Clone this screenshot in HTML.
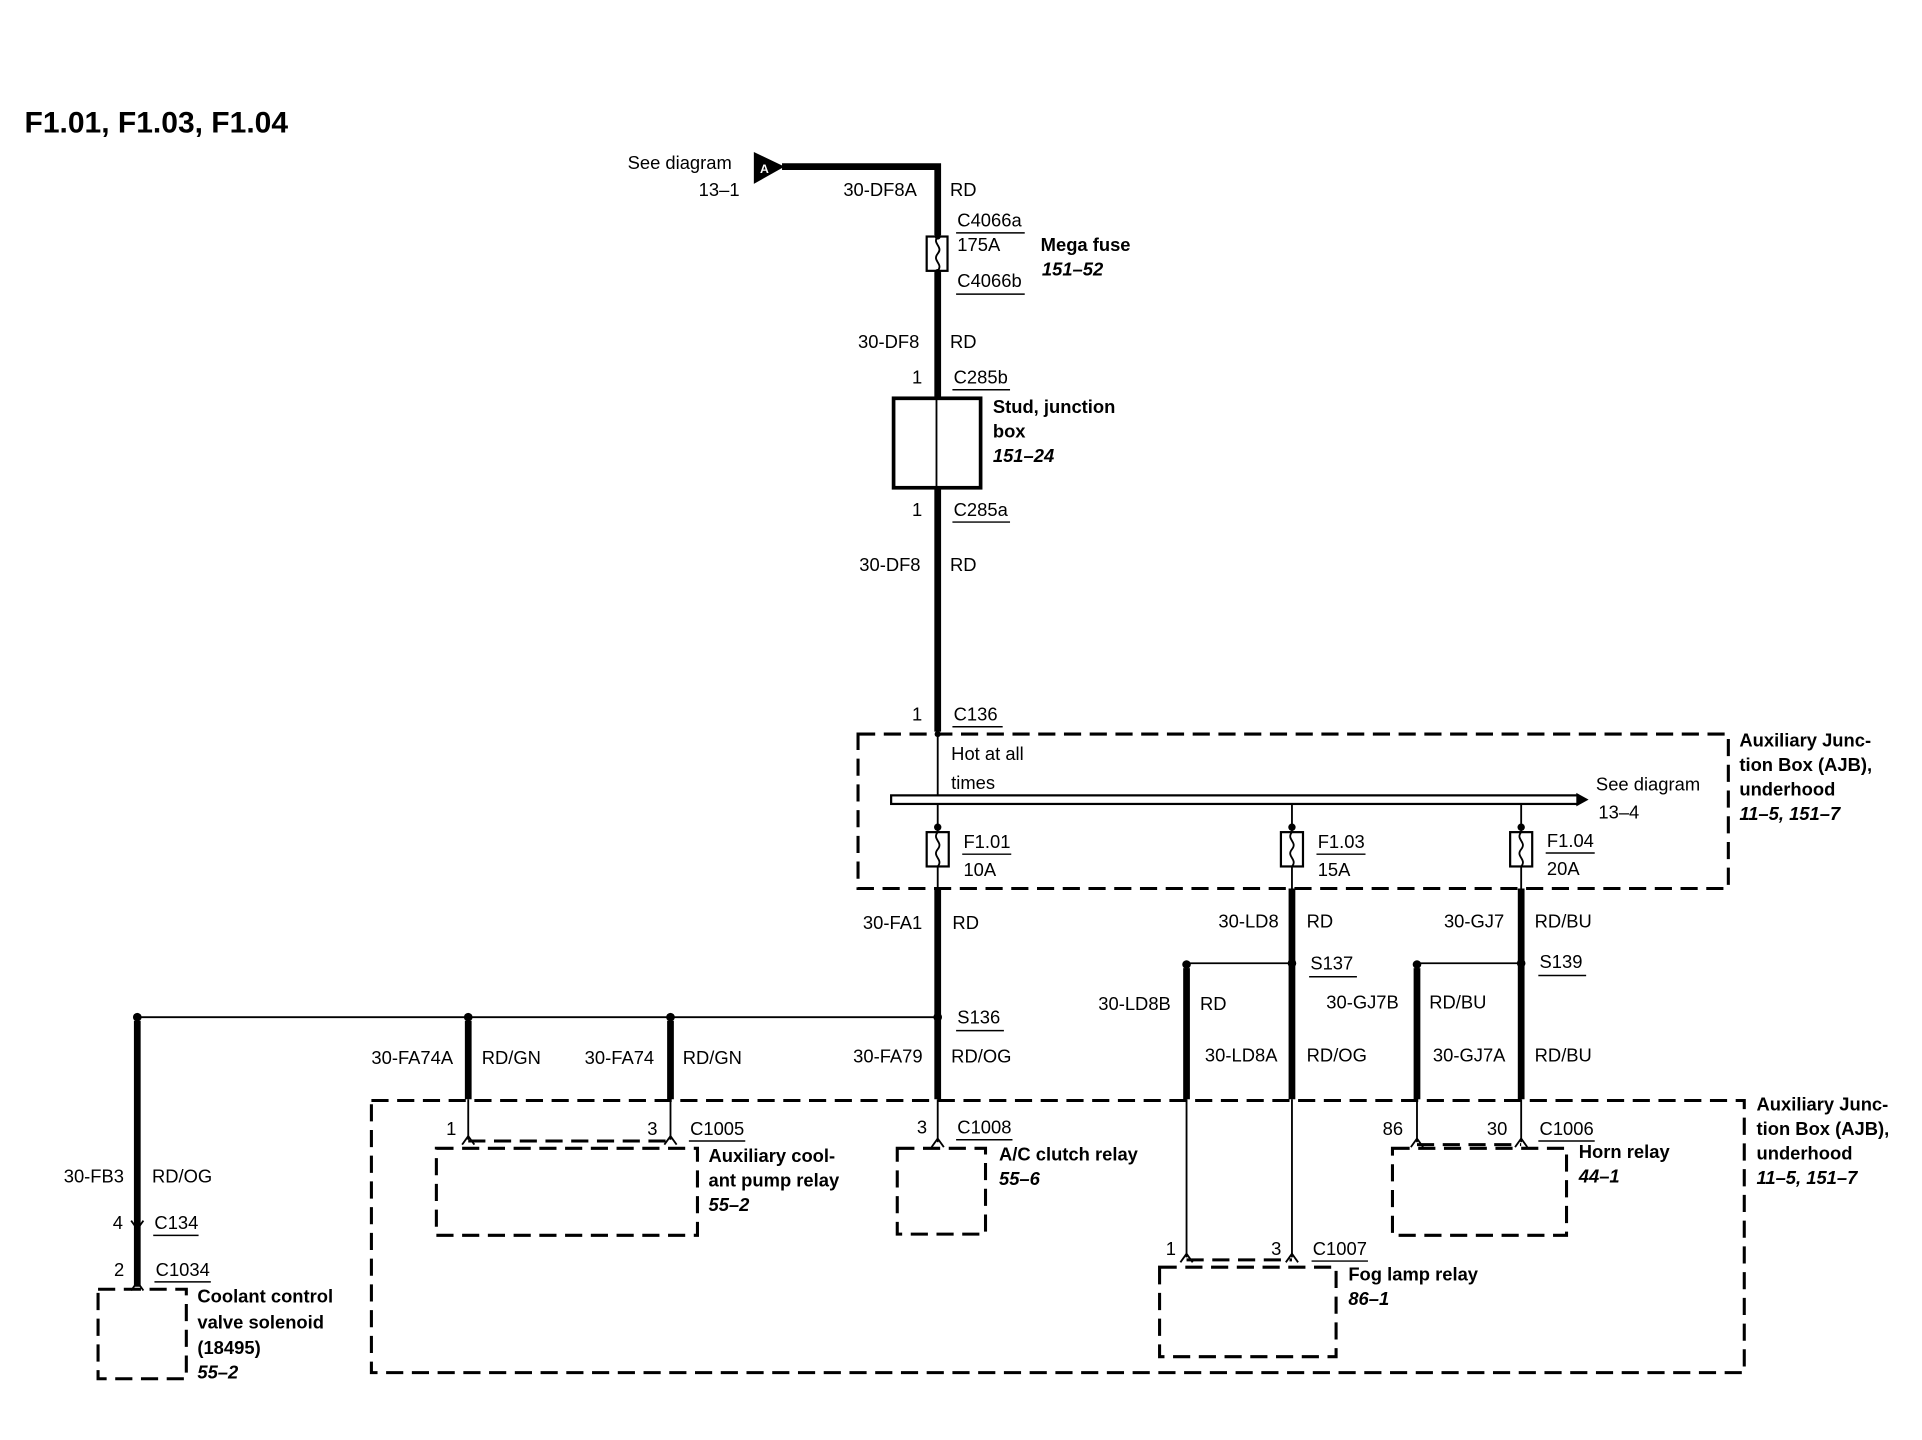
<!DOCTYPE html>
<html><head><meta charset="utf-8"><style>
html,body{margin:0;padding:0;background:#fff;width:1922px;height:1440px;overflow:hidden}
svg{display:block}
text{font-family:"Liberation Sans",sans-serif;font-size:15px;fill:#000}
.b{font-weight:bold}
.i{font-weight:bold;font-style:italic}
.t{font-size:24px;font-weight:bold}
.w{stroke:#000;stroke-width:5.5;fill:none}
.n{stroke:#000;stroke-width:1.5;fill:none}
.d{stroke:#000;stroke-width:2.5;fill:none;stroke-dasharray:14,7}
.u{stroke:#000;stroke-width:1.2}
</style></head><body>
<svg width="1922" height="1440" viewBox="0 0 1568 1175" preserveAspectRatio="none">
<text x="20" y="108" class="t" textLength="215" lengthAdjust="spacingAndGlyphs">F1.01, F1.03, F1.04</text>

<polygon points="615,124 640,136 615,150" fill="#000"/>
<text x="620" y="141" style="font-size:10px;fill:#fff" class="b">A</text>
<text x="512" y="138">See diagram</text>
<text x="570" y="160">13–1</text>
<path class="w" d="M638,136 H765 V192"/>
<text x="688" y="160">30-DF8A</text><text x="775" y="160">RD</text>
<text x="781" y="185">C4066a</text><line class="u" x1="780" y1="190" x2="836" y2="190"/>
<text x="781" y="205">175A</text>
<text x="781" y="234">C4066b</text><line class="u" x1="780" y1="240" x2="836" y2="240"/>
<text x="849" y="205" class="b">Mega fuse</text><text x="850" y="225" class="i">151–52</text>
<rect x="756" y="193" width="17" height="28" fill="#fff" stroke="#000" stroke-width="1.8"/>
<path class="n" d="M765,193 c-5,6 5,8 0,14 c-5,6 5,8 0,14" />
<circle cx="765" cy="193" r="2.5" fill="#000"/><circle cx="765" cy="222" r="2.5" fill="#000"/>
<path class="w" d="M765,222 V325"/>
<text x="700" y="284">30-DF8</text><text x="775" y="284">RD</text>
<text x="744" y="313">1</text><text x="778" y="313">C285b</text><line class="u" x1="777" y1="318" x2="824" y2="318"/>
<rect x="729" y="325" width="71" height="73" fill="none" stroke="#000" stroke-width="3"/>
<line class="n" x1="764" y1="325" x2="764" y2="398"/>
<text x="810" y="337" class="b">Stud, junction</text><text x="810" y="357" class="b">box</text><text x="810" y="377" class="i">151–24</text>
<text x="744" y="421">1</text><text x="778" y="421">C285a</text><line class="u" x1="777" y1="426" x2="824" y2="426"/>
<path class="w" d="M765,398 V597"/>
<text x="701" y="466">30-DF8</text><text x="775" y="466">RD</text>
<text x="744" y="588">1</text><text x="778" y="588">C136</text><line class="u" x1="777" y1="593" x2="818" y2="593"/>

<rect class="d" x="700" y="599" width="710" height="126"/>
<line class="n" x1="765" y1="599" x2="765" y2="650"/>
<circle cx="765" cy="599" r="2.5" fill="#000"/>
<text x="776" y="620">Hot at all</text><text x="776" y="644">times</text>
<rect x="727" y="649" width="560" height="7" fill="#fff" stroke="#000" stroke-width="1.8"/>
<polygon points="1286,647 1296,652.5 1286,658" fill="#000"/>
<text x="1302" y="645">See diagram</text><text x="1304" y="668">13–4</text>
<text x="1419" y="609" class="b">Auxiliary Junc-</text><text x="1419" y="629" class="b">tion Box (AJB),</text><text x="1419" y="649" class="b">underhood</text><text x="1419" y="669" class="i">11–5, 151–7</text>

<g>
<line class="n" x1="765" y1="656" x2="765" y2="725"/>
<rect x="756" y="679" width="18" height="28" fill="#fff" stroke="#000" stroke-width="1.8"/>
<path class="n" d="M765,679 c-5,6 5,8 0,14 c-5,6 5,8 0,14"/>
<circle cx="765" cy="675" r="3" fill="#000"/>
<text x="786" y="692">F1.01</text><line class="u" x1="785" y1="697" x2="825" y2="697"/><text x="786" y="715">10A</text>
<line class="n" x1="1054" y1="656" x2="1054" y2="725"/>
<rect x="1045" y="679" width="18" height="28" fill="#fff" stroke="#000" stroke-width="1.8"/>
<path class="n" d="M1054,679 c-5,6 5,8 0,14 c-5,6 5,8 0,14"/>
<circle cx="1054" cy="675" r="3" fill="#000"/>
<text x="1075" y="692">F1.03</text><line class="u" x1="1074" y1="697" x2="1114" y2="697"/><text x="1075" y="715">15A</text>
<line class="n" x1="1241" y1="656" x2="1241" y2="725"/>
<rect x="1232" y="679" width="18" height="28" fill="#fff" stroke="#000" stroke-width="1.8"/>
<path class="n" d="M1241,679 c-5,6 5,8 0,14 c-5,6 5,8 0,14"/>
<circle cx="1241" cy="675" r="3" fill="#000"/>
<text x="1262" y="691">F1.04</text><line class="u" x1="1261" y1="696" x2="1301" y2="696"/><text x="1262" y="714">20A</text>
</g>

<path class="w" d="M765,725 V897"/>
<text x="704" y="758">30-FA1</text><text x="777" y="758">RD</text>
<path class="w" d="M1054,725 V897"/>
<text x="994" y="757">30-LD8</text><text x="1066" y="757">RD</text>
<path class="w" d="M1241,725 V897"/>
<text x="1178" y="757">30-GJ7</text><text x="1252" y="757">RD/BU</text>

<line class="n" x1="112" y1="830" x2="765" y2="830"/>
<circle cx="112" cy="830" r="3.5" fill="#000"/><circle cx="382" cy="830" r="3.5" fill="#000"/><circle cx="547" cy="830" r="3.5" fill="#000"/><circle cx="765" cy="830" r="3.5" fill="#000"/>
<text x="781" y="835">S136</text><line class="u" x1="780" y1="841" x2="819" y2="841"/>
<path class="w" d="M382,833 V897"/><path class="w" d="M547,833 V897"/>
<text x="303" y="868">30-FA74A</text><text x="393" y="868">RD/GN</text>
<text x="477" y="868">30-FA74</text><text x="557" y="868">RD/GN</text>
<text x="696" y="867">30-FA79</text><text x="776" y="867">RD/OG</text>

<line class="n" x1="968" y1="786" x2="1054" y2="786"/>
<circle cx="968" cy="787" r="3.5" fill="#000"/><circle cx="1054" cy="786" r="3.5" fill="#000"/>
<text x="1069" y="791">S137</text><line class="u" x1="1068" y1="797" x2="1107" y2="797"/>
<line class="n" x1="1156" y1="786" x2="1241" y2="786"/>
<circle cx="1156" cy="787" r="3.5" fill="#000"/><circle cx="1241" cy="786" r="3.5" fill="#000"/>
<text x="1256" y="790">S139</text><line class="u" x1="1255" y1="796" x2="1294" y2="796"/>
<path class="w" d="M968,790 V897"/><path class="w" d="M1156,790 V897"/>
<text x="896" y="824">30-LD8B</text><text x="979" y="824">RD</text>
<text x="1082" y="823">30-GJ7B</text><text x="1166" y="823">RD/BU</text>
<text x="983" y="866">30-LD8A</text><text x="1066" y="866">RD/OG</text>
<text x="1169" y="866">30-GJ7A</text><text x="1252" y="866">RD/BU</text>

<rect class="d" x="303" y="898" width="1120" height="222"/>
<text x="1433" y="906" class="b">Auxiliary Junc-</text><text x="1433" y="926" class="b">tion Box (AJB),</text><text x="1433" y="946" class="b">underhood</text><text x="1433" y="966" class="i">11–5, 151–7</text>

<g class="n">
<line x1="382" y1="897" x2="382" y2="930"/><line x1="547" y1="897" x2="547" y2="930"/>
<line x1="765" y1="897" x2="765" y2="932"/>
<line x1="968" y1="897" x2="968" y2="1026"/><line x1="1054" y1="897" x2="1054" y2="1026"/>
<line x1="1156" y1="897" x2="1156" y2="932"/><line x1="1241" y1="897" x2="1241" y2="932"/>
</g>
<g class="n" stroke-width="2">
<path d="M377,934 L382,927 L387,934"/><path d="M542,934 L547,927 L552,934"/>
<path d="M760,936 L765,929 L770,936"/>
<path d="M963,1030 L968,1023 L973,1030"/><path d="M1049,1030 L1054,1023 L1059,1030"/>
<path d="M1151,936 L1156,929 L1161,936"/><path d="M1236,936 L1241,929 L1246,936"/>
</g>
<line class="d" x1="382" y1="931" x2="547" y2="931" stroke-dasharray="10,6"/>
<line class="d" x1="1156" y1="934" x2="1241" y2="934" stroke-dasharray="10,6"/>
<line class="d" x1="968" y1="1028" x2="1054" y2="1028" stroke-dasharray="10,6"/>

<text x="364" y="926">1</text><text x="528" y="926">3</text><text x="563" y="926">C1005</text><line class="u" x1="562" y1="931" x2="608" y2="931"/>
<rect class="d" x="356" y="937" width="213" height="71"/>
<text x="578" y="948" class="b">Auxiliary cool-</text><text x="578" y="968" class="b">ant pump relay</text><text x="578" y="988" class="i">55–2</text>

<text x="748" y="925">3</text><text x="781" y="925">C1008</text><line class="u" x1="780" y1="930" x2="826" y2="930"/>
<rect class="d" x="732" y="937" width="72" height="70"/>
<text x="815" y="947" class="b">A/C clutch relay</text><text x="815" y="967" class="i">55–6</text>

<text x="1128" y="926">86</text><text x="1213" y="926">30</text><text x="1256" y="926">C1006</text><line class="u" x1="1255" y1="931" x2="1301" y2="931"/>
<rect class="d" x="1136" y="937" width="142" height="71"/>
<text x="1288" y="945" class="b">Horn relay</text><text x="1288" y="965" class="i">44–1</text>

<text x="951" y="1024">1</text><text x="1037" y="1024">3</text><text x="1071" y="1024">C1007</text><line class="u" x1="1070" y1="1029" x2="1116" y2="1029"/>
<rect class="d" x="946" y="1034" width="144" height="73"/>
<text x="1100" y="1045" class="b">Fog lamp relay</text><text x="1100" y="1065" class="i">86–1</text>

<path class="w" d="M112,833 V1050"/>
<text x="52" y="965">30-FB3</text><text x="124" y="965">RD/OG</text>
<path class="n" stroke-width="2" d="M107,996 L112,1003 L117,996"/>
<text x="92" y="1003">4</text><text x="126" y="1003">C134</text><line class="u" x1="125" y1="1008" x2="162" y2="1008"/>
<path class="n" stroke-width="2" d="M107,1053 L112,1046 L117,1053"/>
<text x="93" y="1041">2</text><text x="127" y="1041">C1034</text><line class="u" x1="126" y1="1046" x2="172" y2="1046"/>
<rect class="d" x="80" y="1052" width="72" height="73"/>
<text x="161" y="1063" class="b">Coolant control</text><text x="161" y="1084" class="b">valve solenoid</text><text x="161" y="1105" class="b">(18495)</text><text x="161" y="1125" class="i">55–2</text>
</svg>
</body></html>
